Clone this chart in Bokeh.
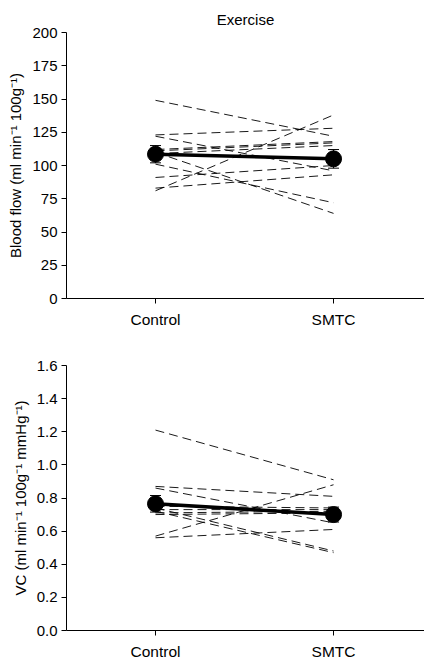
from bokeh.plotting import figure
from bokeh.layouts import column
from bokeh.models import (FixedTicker, Whisker, TeeHead, ColumnDataSource,
                          Range1d, PrintfTickFormatter)
from bokeh.embed import file_html
from bokeh.resources import INLINE

conditions = ["Control", "SMTC"]
xpos = [1, 2]

# Blood flow (individual subjects)
bf_control = [149, 123, 122, 112, 111, 110, 109, 101, 91, 83, 81]
bf_smtc = [122, 128, 96, 118, 117, 64, 115, 72, 100, 93, 138]
bf_mean = [108.5, 105]
bf_sem = [6.5, 7]

# Vascular conductance (individual subjects)
vc_control = [1.21, 0.87, 0.86, 0.75, 0.74, 0.73, 0.72, 0.71, 0.70, 0.57, 0.56]
vc_smtc = [0.91, 0.81, 0.65, 0.74, 0.48, 0.73, 0.47, 0.72, 0.71, 0.88, 0.61]
vc_mean = [0.765, 0.70]
vc_sem = [0.05, 0.045]

FONT = "Liberation Sans"


def make_panel(ctrl, smtc, mean, sem, ymax, yticks, ylabel, title, height,
               b_top, b_bottom, fmt):
    p = figure(width=424, height=height, output_backend="svg",
               toolbar_location=None, x_range=Range1d(0.5, 2.511),
               y_range=Range1d(0, ymax), min_border_left=66,
               min_border_right=0, min_border_top=b_top,
               min_border_bottom=b_bottom)
    p.outline_line_color = None
    p.xgrid.visible = False
    p.ygrid.visible = False
    p.background_fill_color = None
    p.border_fill_color = None
    if title:
        p.title.text = title
        p.title.align = "center"
        p.title.text_font = FONT
        p.title.text_font_size = "15px"
        p.title.text_font_style = "normal"
        p.title.text_color = "black"
        p.title.offset = 0
        p.title.standoff = 10

    xs = [[xpos[0], xpos[1]] for _ in ctrl]
    ys = [[c, s] for c, s in zip(ctrl, smtc)]
    p.multi_line(xs, ys, line_color="black", line_width=1,
                 line_dash="9 5", line_alpha=0.9)

    src = ColumnDataSource(dict(
        x=xpos, m=mean,
        lo=[m - s for m, s in zip(mean, sem)],
        hi=[m + s for m, s in zip(mean, sem)]))
    w = Whisker(source=src, base="x", lower="lo", upper="hi",
                line_color="black", line_width=1,
                lower_head=TeeHead(size=11, line_color="black", line_width=1),
                upper_head=TeeHead(size=11, line_color="black", line_width=1))
    p.add_layout(w)
    p.line("x", "m", source=src, line_color="black", line_width=3.5)
    p.scatter("x", "m", source=src, size=16, color="black")

    p.xaxis.ticker = FixedTicker(ticks=xpos)
    p.xaxis.major_label_overrides = {1: conditions[0], 2: conditions[1]}
    p.yaxis.ticker = FixedTicker(ticks=yticks)
    p.yaxis.formatter = PrintfTickFormatter(format=fmt)
    for ax in (p.xaxis[0], p.yaxis[0]):
        ax.minor_tick_line_color = None
        ax.major_tick_in = 0
        ax.major_tick_out = 5
        ax.axis_line_color = "black"
        ax.major_tick_line_color = "black"
        ax.major_label_text_font = FONT
        ax.major_label_text_color = "black"
    p.xaxis.major_label_text_font_size = "15.5px"
    p.xaxis.major_label_standoff = 7
    p.yaxis.major_label_text_font_size = "15px"
    p.yaxis.major_label_standoff = 4
    p.yaxis.axis_label = ylabel
    p.yaxis.axis_label_text_font = FONT
    p.yaxis.axis_label_text_font_size = "15px"
    p.yaxis.axis_label_text_font_style = "normal"
    p.yaxis.axis_label_text_color = "black"
    p.yaxis.axis_label_standoff = 5
    return p


p1 = make_panel(bf_control, bf_smtc, bf_mean, bf_sem, 200,
                [0, 25, 50, 75, 100, 125, 150, 175, 200],
                "Blood flow (ml min\u207b\u00b9 100g\u207b\u00b9)", "Exercise",
                331, 32, 33, "%d")
p2 = make_panel(vc_control, vc_smtc, vc_mean, vc_sem, 1.6,
                [0, 0.2, 0.4, 0.6, 0.8, 1.0, 1.2, 1.4, 1.6],
                "VC (ml min\u207b\u00b9 100g\u207b\u00b9 mmHg\u207b\u00b9)", None,
                331, 34, 28, "%.1f")

layout = column(p1, p2, spacing=0)
open("out.html", "w").write(file_html(layout, INLINE))
